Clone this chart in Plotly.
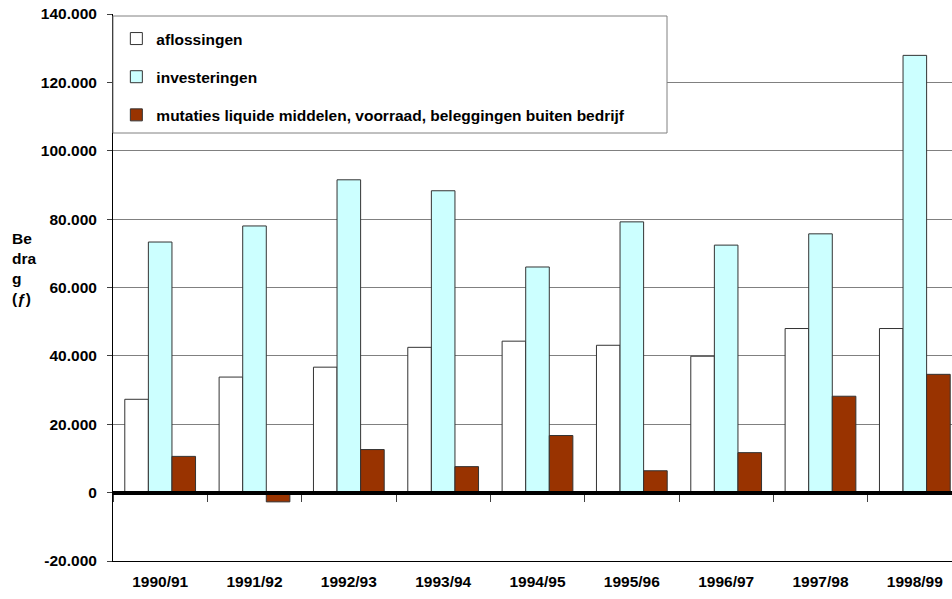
import plotly.graph_objects as go

categories = ["1990/91", "1991/92", "1992/93", "1993/94", "1994/95",
              "1995/96", "1996/97", "1997/98", "1998/99"]
aflossingen = [27300, 33800, 36700, 42500, 44300, 43100, 39900, 48000, 48000]
investeringen = [73300, 78000, 91500, 88300, 66000, 79200, 72400, 75700, 127900]
mutaties = [10600, -2700, 12600, 7600, 16700, 6400, 11700, 28200, 34600]
series_names = ["aflossingen", "investeringen",
                "mutaties liquide middelen, voorraad, beleggingen buiten bedrijf"]
ytick_vals = [-20000, 0, 20000, 40000, 60000, 80000, 100000, 120000, 140000]
ytick_text = ["-20.000", "0", "20.000", "40.000", "60.000", "80.000",
              "100.000", "120.000", "140.000"]

FONT = "Liberation Sans, Arial, sans-serif"
FS = 15.5
colors = ["#FFFFFF", "#CCFFFF", "#993300"]

fig = go.Figure()
for i, (name, vals) in enumerate(zip(series_names, [aflossingen, investeringen, mutaties])):
    fig.add_trace(go.Bar(
        x=categories, y=vals, name=name,
        marker=dict(color=colors[i], line=dict(color="#333333", width=1)),
        legendgroup=f"g{i}",
    ))

# invisible trace carrying the overlay axis used for the zero line
fig.add_trace(go.Scatter(x=categories, y=[None] * len(categories), xaxis="x2",
                         showlegend=False, hoverinfo="skip", mode="markers"))

x_range = [-0.5, 8.394]
fig.update_layout(
    width=952, height=599,
    margin=dict(l=113, r=0, t=14, b=38),
    paper_bgcolor="white", plot_bgcolor="white",
    barmode="group", bargap=0.25, bargroupgap=0,
    font=dict(family=FONT, size=FS, color="black"),
    showlegend=True,
    legend=dict(
        x=0.004, y=0.9854, xanchor="left", yanchor="top",
        bgcolor="rgba(0,0,0,0)", borderwidth=0,
        font=dict(family=FONT, size=FS, color="black", weight="bold"),
        tracegroupgap=15, traceorder="grouped",
    ),
    shapes=[dict(
        type="rect", xref="paper", yref="paper",
        x0=0, x1=554 / 839, y0=(561 - 133) / 547, y1=(561 - 16) / 547,
        fillcolor="white", line=dict(color="#808080", width=1), layer="above",
    )],
    xaxis=dict(
        type="category", categoryorder="array", categoryarray=categories,
        range=x_range, showgrid=False, zeroline=False,
        showline=True, linecolor="black", linewidth=1,
        ticks="", ticklabelstandoff=6,
        tickfont=dict(family=FONT, size=FS, color="black", weight="bold"),
    ),
    xaxis2=dict(
        type="category", categoryorder="array", categoryarray=categories,
        range=x_range, overlaying="x", anchor="free", position=0.125,
        showgrid=False, zeroline=False, showticklabels=False,
        showline=True, linecolor="black", linewidth=4,
        ticks="outside", tickson="boundaries", ticklen=7, tickcolor="#404040", tickwidth=1,
        layer="above traces",
    ),
    yaxis=dict(
        range=[-20000, 140000],
        tickvals=ytick_vals, ticktext=ytick_text,
        showgrid=True, gridcolor="#808080", gridwidth=1,
        zeroline=False,
        showline=True, linecolor="black", linewidth=1,
        ticks="outside", ticklen=5, tickcolor="#404040",
        ticklabelstandoff=7,
        tickfont=dict(family=FONT, size=FS, color="black", weight="bold"),
    ),
    annotations=[dict(
        text="Be<br>dra<br>g<br>(ƒ)", xref="paper", yref="paper",
        x=-103 / 839, y=0.535, xanchor="left", yanchor="middle",
        align="left", showarrow=False,
        font=dict(family=FONT, size=FS, color="black", weight="bold"),
    )],
)

fig.write_html("out.html", config={"displayModeBar": False},
               post_script="document.body.style.margin='0';document.body.style.overflow='hidden';")
